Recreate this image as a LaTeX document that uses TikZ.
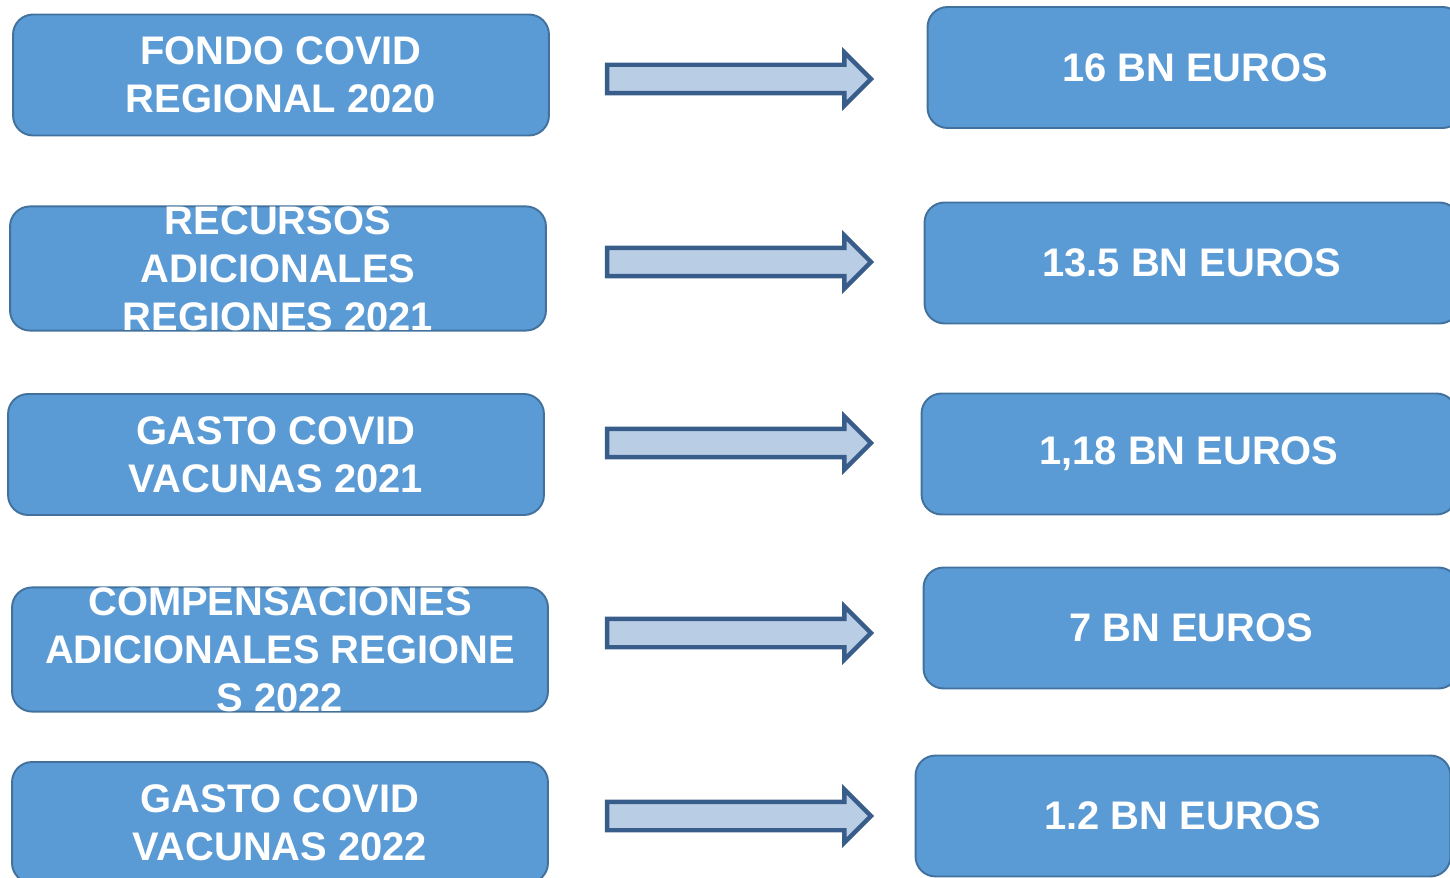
\documentclass[tikz,border=0pt]{standalone}
\usepackage{fontspec}
\setmainfont{Liberation Sans}
\usepackage{tikz}
\usetikzlibrary{shapes.arrows}
\definecolor{boxfill}{HTML}{5B9BD5}
\definecolor{boxline}{HTML}{41719C}
\definecolor{arrowfill}{HTML}{B9CDE5}
\definecolor{arrowline}{HTML}{385D8A}
\tikzset{fund node/.style={rectangle, draw=boxline, fill=boxfill, line width=1.1pt,
    rounded corners=0.4cm, minimum width=10.72cm, minimum height=2.42cm, inner sep=0pt,
    text=white, align=center, font=\bfseries\fontsize{22.7}{27.3}\selectfont}}
\tikzset{amount node/.style={fund node, minimum width=10.7cm}}
\tikzset{block arrow/.style={single arrow, draw=arrowline, fill=arrowfill, line width=2.5pt,
    minimum height=5.28cm, inner xsep=0pt, inner ysep=0.24cm,
    single arrow head extend=0.25cm, single arrow tip angle=90, single arrow head indent=0pt}}

\begin{document}
\begin{tikzpicture}
      [x=0.02cm, y=-0.02cm]
      \useasboundingbox (0,0) rectangle (1450,878);

      \node [fund node]   (fund0)   at ( 281,  75)   {FONDO COVID\\REGIONAL 2020};
      \node [fund node]   (fund1)   at ( 278, 268.5) {RECURSOS\\ADICIONALES\\REGIONES 2021};
      \node [fund node]   (fund2)   at ( 276, 454.5) {GASTO COVID\\VACUNAS 2021};
      \node [fund node]   (fund3)   at ( 280, 649.5) {COMPENSACIONES\\ADICIONALES REGIONE\\S 2022};
      \node [fund node]   (fund4)   at ( 280, 822.5) {GASTO COVID\\VACUNAS 2022};

      \node [amount node] (amount0) at (1195,  67.5) {16 BN EUROS};
      \node [amount node] (amount1) at (1192, 263)   {13.5 BN EUROS};
      \node [amount node] (amount2) at (1189, 454)   {1,18 BN EUROS};
      \node [amount node] (amount3) at (1191, 628)   {7 BN EUROS};
      \node [amount node] (amount4) at (1183, 816)   {1.2 BN EUROS};

      \node [block arrow] (arrow0)  at ( 732,  79)   {};
      \node [block arrow] (arrow1)  at ( 732, 262)   {};
      \node [block arrow] (arrow2)  at ( 732, 443)   {};
      \node [block arrow] (arrow3)  at ( 732, 633)   {};
      \node [block arrow] (arrow4)  at ( 732, 816)   {};
\end{tikzpicture}
\end{document}
